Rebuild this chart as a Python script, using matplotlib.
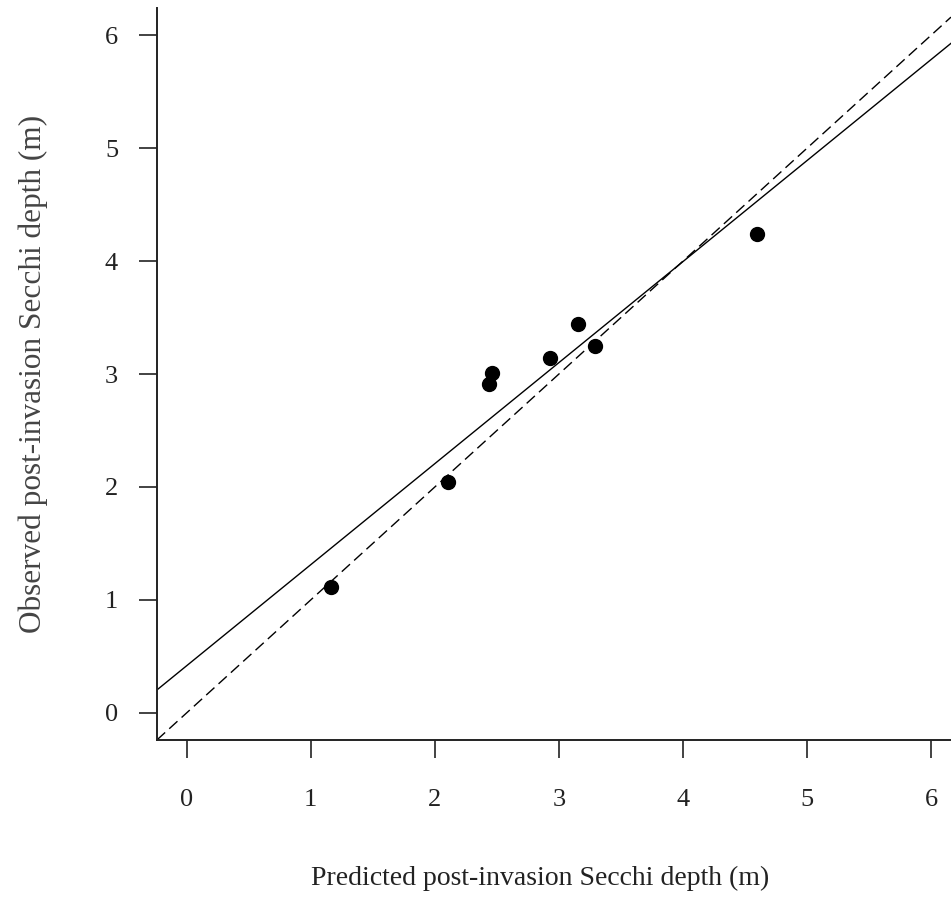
import matplotlib
matplotlib.use('Agg')
import matplotlib.pyplot as plt
import numpy as np

# predicted vs observed post-invasion Secchi depth (m)
predicted = [1.16, 2.11, 2.44, 2.46, 2.93, 3.15, 3.29, 4.60]
observed = [1.115, 2.04, 2.91, 3.01, 3.14, 3.44, 3.25, 4.24]
ticks = [0, 1, 2, 3, 4, 5, 6]

plt.rcParams['font.family'] = ['Liberation Serif', 'DejaVu Serif']

fig = plt.figure(figsize=(9.51, 8.98), dpi=100)
ax = fig.add_axes([0.165, 0.176, 0.835, 0.815])

ax.set_xlim(-0.24, 6.16)
ax.set_ylim(-0.24, 6.24)

# fitted regression line and 1:1 line
slope, intercept = np.polyfit(predicted, observed, 1)
ax.axline((0, intercept), slope=slope, color='black', lw=1.0)
ax.axline((0, 0), slope=1, color='black', lw=1.0, dashes=(8, 4))

ax.plot(predicted, observed, 'o', color='black', markersize=10, zorder=3)

for side in ['top', 'right']:
    ax.spines[side].set_visible(False)
for side in ['left', 'bottom']:
    ax.spines[side].set_linewidth(1.4)
    ax.spines[side].set_color('#222222')

ax.set_xticks(ticks)
ax.set_yticks(ticks)
ax.tick_params(axis='both', length=13, width=1.2, color='#222222',
               labelsize=19, labelcolor='#222222')
ax.tick_params(axis='x', pad=22)
ax.tick_params(axis='y', pad=15)

ax.set_xlabel('Predicted post-invasion Secchi depth (m)', fontsize=20,
              color='#222222', labelpad=40)
ax.xaxis.label.set_x(0.482)
ax.set_ylabel('Observed post-invasion Secchi depth (m)', fontsize=22.5,
              color='#444444', labelpad=41)

fig.savefig('out.png', dpi=100)
